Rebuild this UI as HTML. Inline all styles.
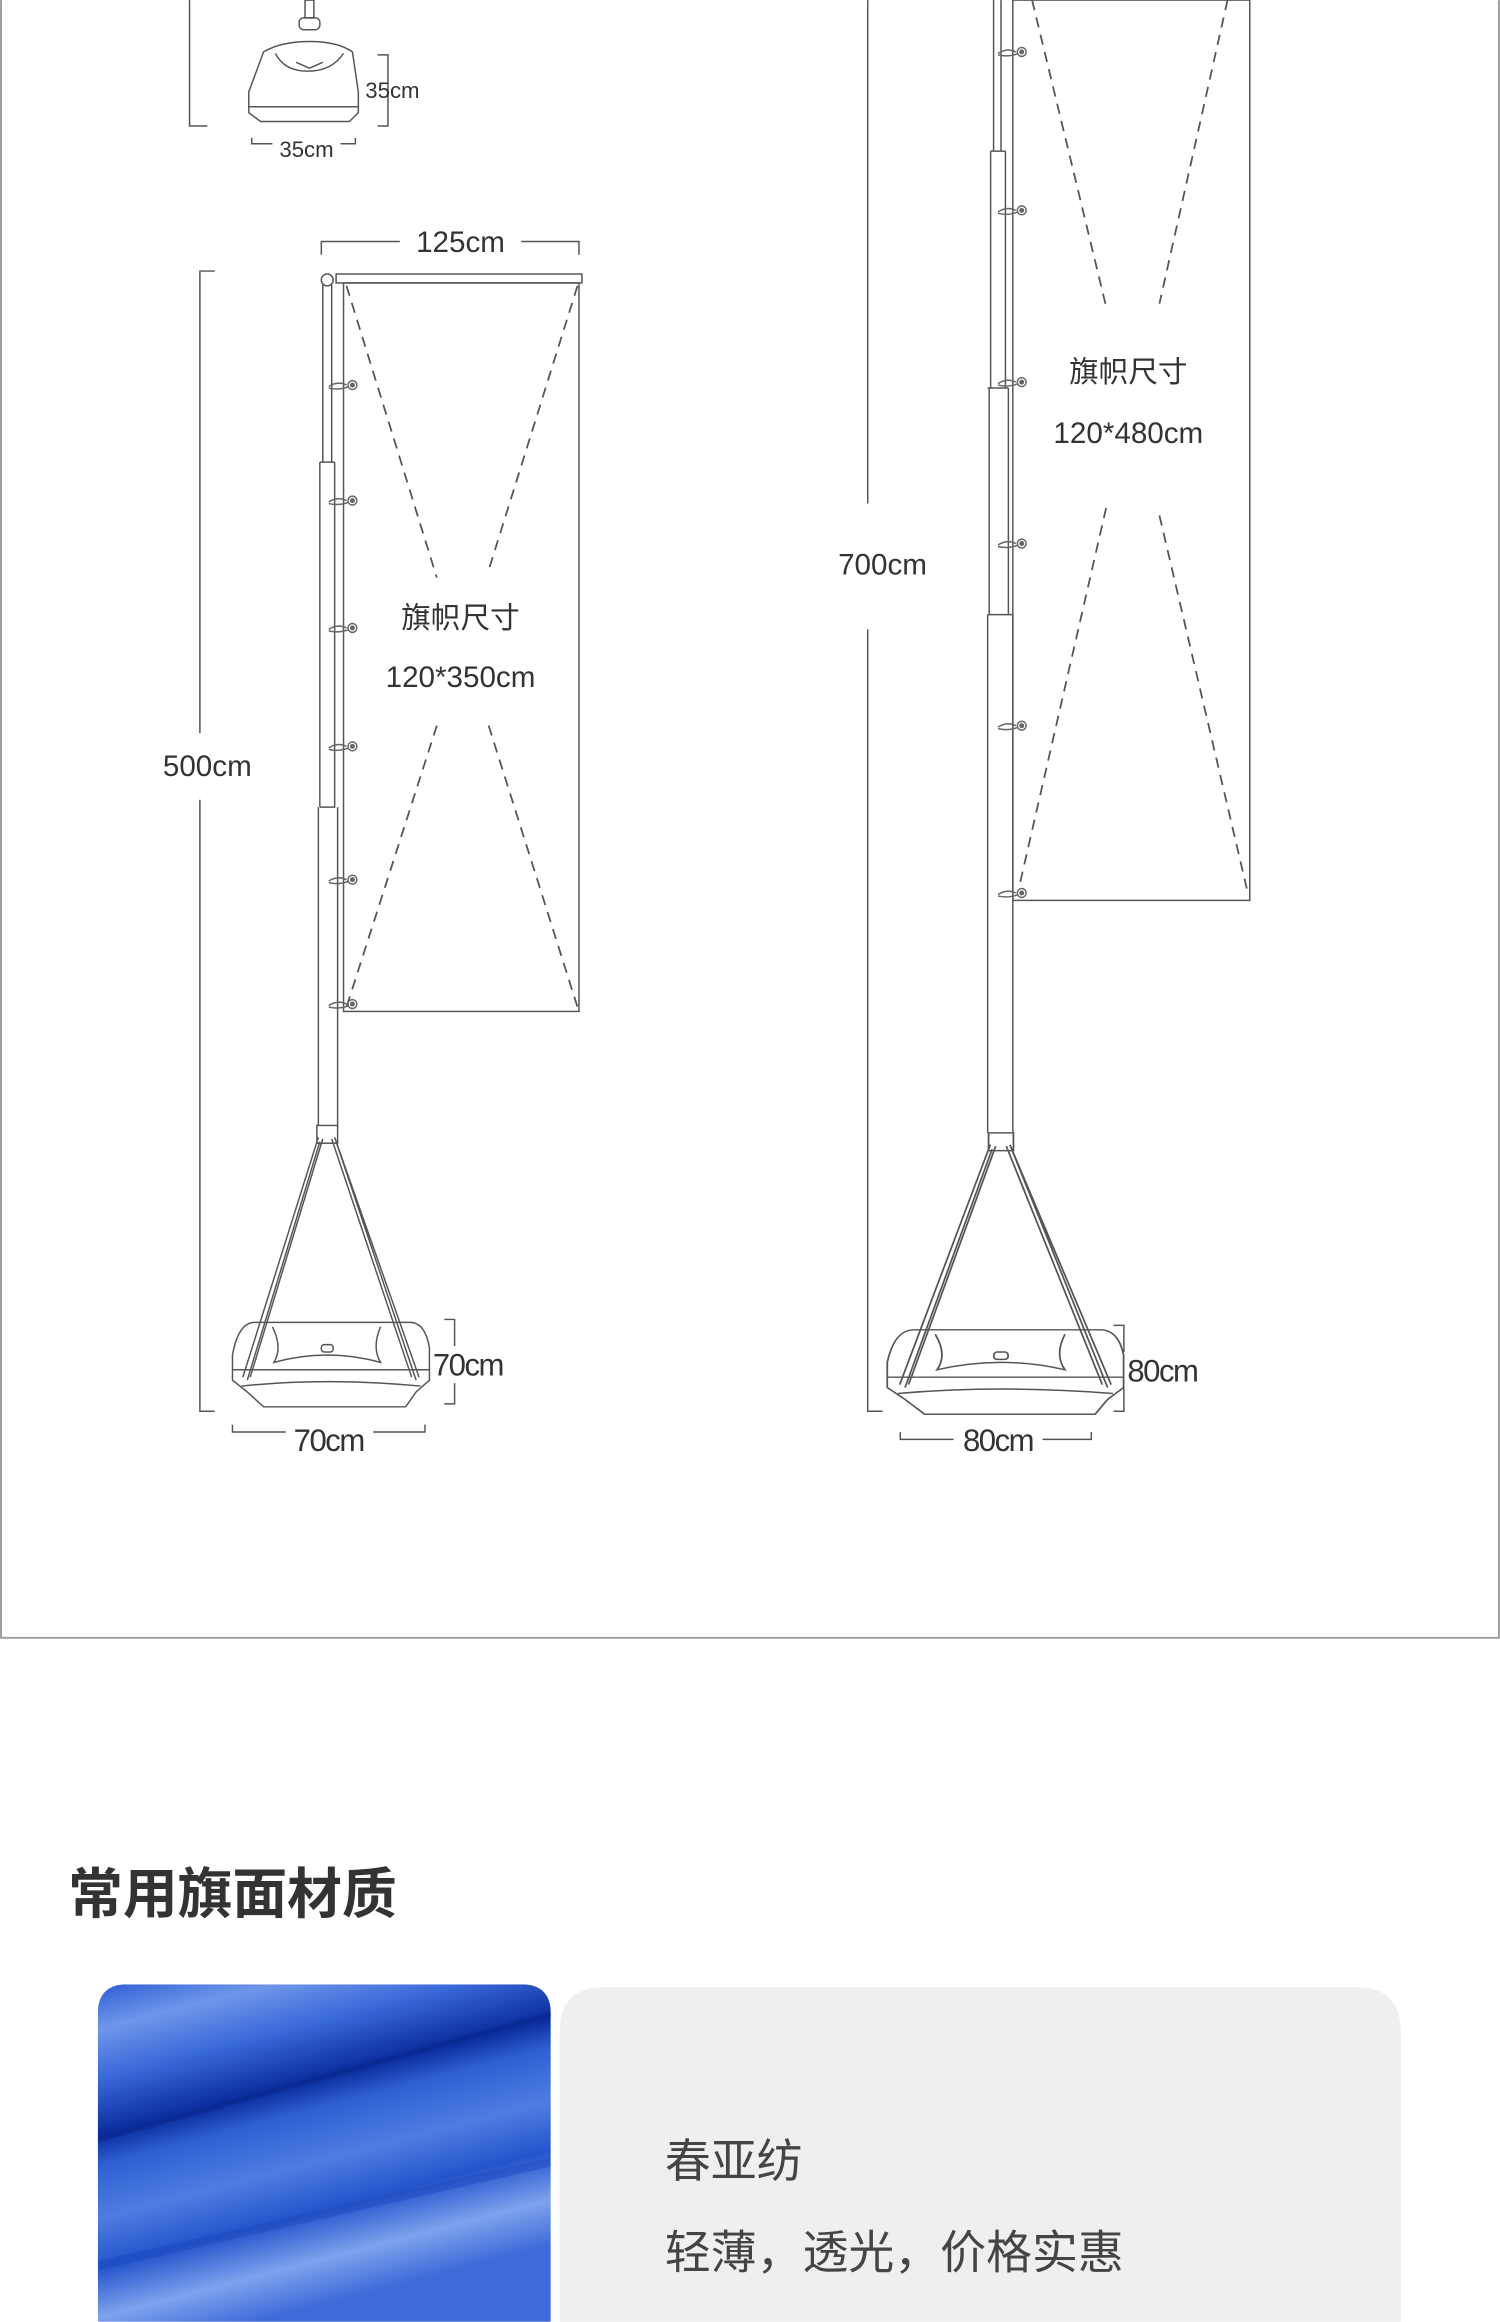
<!DOCTYPE html>
<html><head><meta charset="utf-8">
<style>
html,body{margin:0;padding:0;background:#fff;}
body{width:1500px;height:2322px;overflow:hidden;}
svg{display:block;}
text{font-family:"Liberation Sans","Noto Sans CJK SC",sans-serif;fill:#333;}
</style></head><body>
<svg width="1500" height="2322" viewBox="0 0 1013 1568" xmlns="http://www.w3.org/2000/svg">
<defs>
<linearGradient id="fab" x1="0" y1="0" x2="0.35" y2="1">
<stop offset="0" stop-color="#2d5fd6"/>
<stop offset="0.12" stop-color="#6f96e8"/>
<stop offset="0.25" stop-color="#3a69da"/>
<stop offset="0.40" stop-color="#0a2c9c"/>
<stop offset="0.48" stop-color="#2f60d4"/>
<stop offset="0.62" stop-color="#4e7de0"/>
<stop offset="0.75" stop-color="#2454cc"/>
<stop offset="0.88" stop-color="#7ea2ec"/>
<stop offset="1" stop-color="#3e6bd9"/>
</linearGradient>
<clipPath id="fc"><path d="M66,1360 Q66,1340 86,1340 L352,1340 Q372,1340 372,1360 L372,1568 L66,1568 Z"/></clipPath>
<g id="base" fill="none" stroke="#555" stroke-width="1">
  <rect x="-7" y="0" width="14" height="12" fill="#fff"/>
  <path d="M-49,133 L56,133 Q66,133 69,150 L69,172 L60,180 L53,190 L-43,190 L-54,180 L-64,172 L-64,155 Q-60,133 -49,133 Z" fill="#fff"/>
  <path d="M-64,165 L69,165 M-58,176 Q0,170 63,176"/>
  <path d="M-37,136 Q-30,150 -36,160 Q0,150 36,160 Q30,150 36,136"/>
  <rect x="-4" y="148" width="8" height="5" rx="2"/>
  <path d="M-6,8 L-57,170 M-3,9 L-52,170 M-5,11 L-54,172"/>
  <path d="M5,8 L62,170 M3,9 L57,170 M6,11 L60,172"/>
</g>
<g id="ring" fill="none" stroke="#666" stroke-width="1">
  <path d="M-12,1 Q-6,-3 0,0 M-12,2 Q-4,4 4,0"/>
  <circle cx="4" cy="0" r="3" fill="#fff"/>
  <circle cx="4" cy="0" r="1.2" fill="#666"/>
</g>
</defs>

<rect x="0" y="0" width="1013" height="1568" fill="#fff"/>
<path d="M0.7,0 L0.7,1106 L1012.3,1106 L1012.3,0" fill="none" stroke="#9a9a9a" stroke-width="1.3"/>

<!-- LEFT top small base -->
<g fill="none" stroke="#555" stroke-width="1">
<path d="M128,0 L128,85 L140,85"/>
<rect x="206" y="0" width="6" height="12"/>
<rect x="202" y="12" width="14" height="8" rx="3"/>
<path d="M178,35 Q190,28 209,28 Q228,28 238,35 L242,62 L242,76 L236,82 L176,82 L168,76 L168,62 Z" fill="#fff"/>
<path d="M168,72 L242,72 M186,36 Q192,48 208,48 Q224,48 232,36"/>
<path d="M200,42 L209,46 L218,42"/>
<path d="M255,37 L262,37 L262,85 L255,85"/>
<path d="M170,93 L170,97 L184,97 M230,97 L240,97 L240,93"/>
</g>
<text x="265" y="66" font-size="15" text-anchor="middle">35cm</text>
<text x="207" y="106" font-size="15" text-anchor="middle">35cm</text>

<!-- LEFT flag -->
<g fill="none" stroke="#555" stroke-width="1">
<path d="M217,172 L217,163 L270,163 M352,163 L391,163 L391,172"/>
<path d="M145,183 L135,183 L135,495 M135,540 L135,953 L145,953"/>
<path d="M218,192 L218,312 M224,192 L224,312"/>
<path d="M216,312 L216,545 M226,312 L226,545 L216,545"/>
<path d="M215,545 L215,762 M228,545 L228,762"/>
<path d="M216,312 L226,312"/>
<circle cx="221" cy="189" r="4" fill="#fff"/>
<rect x="227" y="185" width="166" height="6" fill="#fff"/>
<rect x="232" y="191" width="159" height="492"/>
</g>
<g fill="none" stroke="#555" stroke-width="1.2" stroke-dasharray="7,5">
<path d="M234,193 L295,390 M390,193 L330,385 M295,490 L234,680 M330,490 L390,680"/>
</g>
<use href="#ring" x="234" y="260"/>
<use href="#ring" x="234" y="338"/>
<use href="#ring" x="234" y="424"/>
<use href="#ring" x="234" y="504"/>
<use href="#ring" x="234" y="594"/>
<use href="#ring" x="234" y="678"/>
<text x="311" y="424" font-size="20" text-anchor="middle">旗帜尺寸</text>
<text x="311" y="464" font-size="20" text-anchor="middle">120*350cm</text>
<text x="140" y="524" font-size="20" text-anchor="middle">500cm</text>
<text x="311" y="170" font-size="20" text-anchor="middle">125cm</text>
<use href="#base" x="221" y="760"/>
<g fill="none" stroke="#555" stroke-width="1">
<path d="M300,891 L307,891 L307,909 M307,934 L307,948 L300,948"/>
<path d="M157,962 L157,967 L193,967 M252,967 L287,967 L287,962"/>
</g>
<text x="316" y="929" font-size="21" text-anchor="middle" letter-spacing="-1">70cm</text>
<text x="222" y="980" font-size="21" text-anchor="middle" letter-spacing="-1">70cm</text>

<!-- RIGHT flag -->
<g fill="none" stroke="#555" stroke-width="1">
<path d="M586,0 L586,340 M586,425 L586,953 L596,953"/>
<path d="M671,0 L671,102 M676,0 L676,102 M669,102 L679,102"/>
<path d="M669,102 L669,262 M679,102 L679,262 M667,262 L681,262"/>
<path d="M668,262 L668,415 M681,262 L681,415 M667,415 L684,415"/>
<path d="M667,415 L667,765 M684,415 L684,765"/>
<rect x="684" y="0" width="160" height="608" fill="none"/>
</g>
<g fill="none" stroke="#555" stroke-width="1.2" stroke-dasharray="7,5">
<path d="M697,0 L747,207 M829,0 L783,205 M747,343 L688,600 M783,348 L842,600"/>
</g>
<use href="#ring" x="686" y="35"/>
<use href="#ring" x="686" y="142"/>
<use href="#ring" x="686" y="258"/>
<use href="#ring" x="686" y="367"/>
<use href="#ring" x="686" y="490"/>
<use href="#ring" x="686" y="603"/>
<text x="762" y="258" font-size="20" text-anchor="middle">旗帜尺寸</text>
<text x="762" y="299" font-size="20" text-anchor="middle">120*480cm</text>
<text x="596" y="388" font-size="20" text-anchor="middle">700cm</text>
<use href="#base" transform="translate(676,765) scale(1.2,1)"/>
<g fill="none" stroke="#555" stroke-width="1">
<path d="M752,895 L759,895 L759,913 M759,937 L759,953 L752,953"/>
<path d="M608,967 L608,972 L644,972 M704,972 L737,972 L737,967"/>
</g>
<text x="785" y="933" font-size="21" text-anchor="middle" letter-spacing="-1">80cm</text>
<text x="674" y="980" font-size="21" text-anchor="middle" letter-spacing="-1">80cm</text>

<!-- Section 2 -->
<text x="46" y="1292" font-size="37" font-weight="bold">常用旗面材质</text>
<g clip-path="url(#fc)">
<rect x="66" y="1340" width="306" height="228" fill="url(#fab)"/>
<path d="M66,1445 L372,1360" stroke="#0a2890" stroke-width="3" opacity="0.7"/>
<path d="M66,1530 L372,1460" stroke="#1a44b8" stroke-width="6" opacity="0.4"/>
</g>
<path d="M378,1568 L378,1372 Q378,1342 408,1342 L916,1342 Q946,1342 946,1372 L946,1568 Z" fill="#efefef"/>
<text x="449" y="1470" font-size="31" style="fill:#444">春亚纺</text>
<text x="449" y="1532" font-size="31" style="fill:#444">轻薄，透光，价格实惠</text>
</svg>
</body></html>
